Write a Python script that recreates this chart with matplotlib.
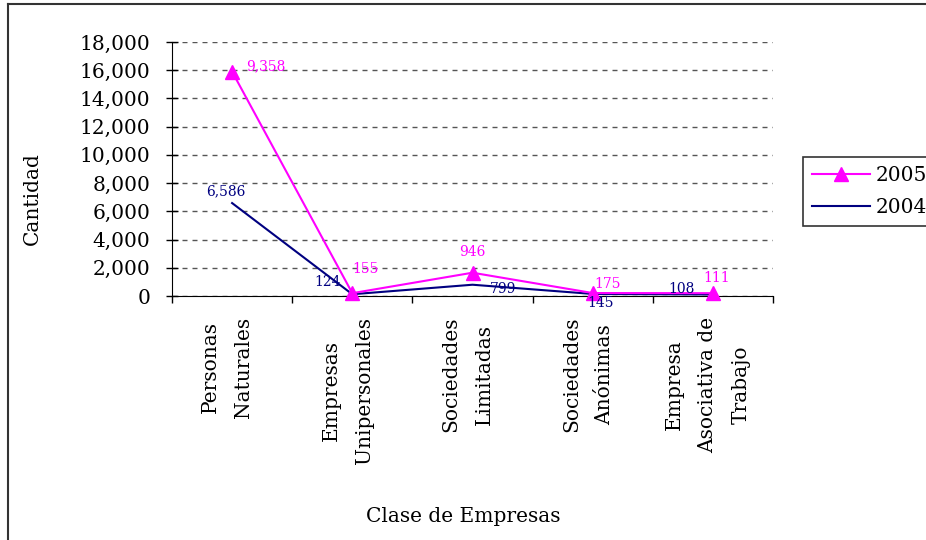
import matplotlib
matplotlib.use("Agg")
import matplotlib.pyplot as plt
from matplotlib.lines import Line2D
from matplotlib.ticker import FuncFormatter

categories = [
    "Personas\nNaturales",
    "Empresas\nUnipersonales",
    "Sociedades\nLimitadas",
    "Sociedades\nAnónimas",
    "Empresa\nAsociativa de\nTrabajo",
]
values_2005 = [15900, 200, 1650, 210, 200]
values_2004 = [6586, 124, 799, 145, 108]
labels_2005 = ["9,358", "155", "946", "175", "111"]
labels_2004 = ["6,586", "124", "799", "145", "108"]

MAGENTA = "#FF00FF"
NAVY = "#000080"
FONT = "DejaVu Serif"

plt.rcParams["font.family"] = FONT

fig = plt.figure(figsize=(9.26, 5.40), dpi=100)
ax = fig.add_axes([172 / 926, 1 - 296 / 540, (773 - 172) / 926, (296 - 42) / 540])

x = list(range(len(categories)))
ax.plot(x, values_2005, color=MAGENTA, lw=1.5, marker="^", markersize=10,
        label="2005", zorder=4, clip_on=False)
ax.plot(x, values_2004, color=NAVY, lw=1.5, label="2004", zorder=3, clip_on=False)

# data labels, placed roughly where the original chart put them
off_2005 = [(34, 5), (13, 24), (0, 21), (15, 9), (4, 15)]
off_2004 = [(-6, 12), (-25, 12), (31, -4), (8, -9), (-31, 5)]
for i, (txt, off) in enumerate(zip(labels_2005, off_2005)):
    ax.annotate(txt, (x[i], values_2005[i]), xytext=off, textcoords="offset pixels",
                ha="center", va="center", fontsize=10, color=MAGENTA, zorder=5)
for i, (txt, off) in enumerate(zip(labels_2004, off_2004)):
    ax.annotate(txt, (x[i], values_2004[i]), xytext=off, textcoords="offset pixels",
                ha="center", va="center", fontsize=10, color=NAVY, zorder=5)

ax.set_xlim(-0.5, len(categories) - 0.5)
ax.set_ylim(0, 18000)
ax.set_yticks(range(0, 18001, 2000))
ax.yaxis.set_major_formatter(FuncFormatter(lambda v, p: f"{int(v):,}"))
ax.grid(axis="y", color="#555555", lw=1, linestyle=(0, (3.6, 3.6)))
ax.set_axisbelow(True)

# category labels sit a few pixels left of the category centre in the original
ax.set_xticks([i - 0.04 for i in x])
ax.set_xticklabels(categories, rotation=90, ha="center", va="top",
                   multialignment="center", linespacing=1.95, fontsize=14.5)
ax.set_xticks([i - 0.5 for i in range(len(categories) + 1)], minor=True)
ax.tick_params(axis="x", which="major", length=0, pad=15)
ax.tick_params(axis="x", which="minor", length=5, width=1, direction="out", color="black")
ax.tick_params(axis="y", direction="inout", length=9, width=1, labelsize=14.5, pad=11)

for side in ("top", "right"):
    ax.spines[side].set_visible(False)
ax.spines["left"].set_color("black")
ax.spines["bottom"].set_color("black")

fig.text(32 / 926, 1 - 199 / 540, "Cantidad", rotation=90, ha="center", va="center",
         fontsize=14.5)
fig.text(463 / 926, 1 - 516 / 540, "Clase de Empresas", ha="center", va="center",
         fontsize=14.5)

leg = fig.legend(loc="upper left", bbox_to_anchor=(803 / 926, 1 - 157 / 540),
                 bbox_transform=fig.transFigure, borderaxespad=0, fancybox=False,
                 edgecolor="black", fontsize=14.5, handlelength=2.9, handletextpad=0.25,
                 labelspacing=0.65, borderpad=0.45)
leg.get_frame().set_linewidth(1.2)

# outer chart-area border (only left and top visible in the original crop)
y_top = 1 - 4 / 540
x_left = 8 / 926
fig.lines.append(Line2D([x_left, 1.05], [y_top, y_top], transform=fig.transFigure,
                        color="#333333", lw=1.5))
fig.lines.append(Line2D([x_left, x_left], [y_top, -0.05], transform=fig.transFigure,
                        color="#333333", lw=1.5))

fig.savefig("out.png", dpi=100)
